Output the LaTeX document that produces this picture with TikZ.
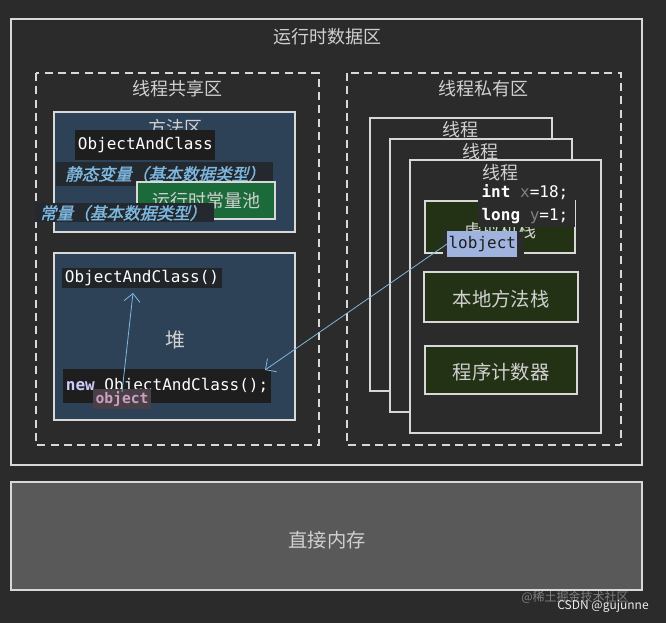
\documentclass[tikz,border=0pt]{standalone}
\usepackage{fontspec}
\setmainfont{Noto Sans CJK SC}
\newfontfamily\cjk{Noto Sans CJK SC}
\newfontfamily\cjkit[FakeSlant=0.25,FakeBold=1.5]{Noto Sans CJK SC}
\setmonofont{DejaVu Sans Mono}
\usetikzlibrary{arrows.meta}
\definecolor{bg}{HTML}{2B2B2B}
\definecolor{ln}{HTML}{D8D8D8}
\definecolor{txt}{HTML}{D0D0D0}
\definecolor{blu}{HTML}{2E4257}
\definecolor{codebg}{HTML}{1E1E1E}
\definecolor{grn}{HTML}{1B6B3A}
\definecolor{dgrn}{HTML}{233214}
\definecolor{sky}{HTML}{7DB8E0}
\definecolor{pink}{HTML}{C9A0C0}
\definecolor{hl}{HTML}{9FB3DE}
\definecolor{dmem}{HTML}{595959}
\begin{document}
\begin{tikzpicture}[x=0.75pt,y=-0.75pt,
  box/.style={draw=ln,line width=1.2pt},
  dashbox/.style={draw=ln,line width=1.2pt,dash pattern=on 6pt off 4pt},
  lab/.style={text=txt,font=\cjk\fontsize{13.5}{13.5}\selectfont,inner sep=0pt},
  code/.style={fill=codebg,text=white,font=\ttfamily\fontsize{12}{12}\selectfont,inner sep=2pt},
  arr/.style={draw=sky,line width=0.6pt,-{Straight Barb[length=6pt]}}]
\fill[bg] (0,0) rectangle (666,623);
\useasboundingbox (0,0) rectangle (666,623);
% outer
\draw[box] (11,19) rectangle (642,465);
\node[lab] (t0) at (327,37) {运行时数据区};
\draw[dashbox] (36,73) rectangle (319,445);
\node[lab] (t1) at (177,89) {线程共享区};
\draw[dashbox] (347,73) rectangle (621,445);
\node[lab] (t2) at (483,89) {线程私有区};
% method area
\draw[box,fill=blu] (54,112) rectangle (295,232);
\node[lab] (ma) at (175,128) {方法区};
\node[code,minimum height=23,anchor=west] (oac) at (75,145) {ObjectAndClass};
\fill[codebg!70!blu] (56,162) rectangle (273,186);
\node[inner sep=0pt,text=sky,font=\cjkit\fontsize{12.5}{12.5}\selectfont] (sv) at (165,174) {静态变量（基本数据类型）};
\draw[box,fill=grn] (137,182) rectangle (275,219);
\node[lab] (rc) at (206,201) {运行时常量池};
\fill[codebg!70!blu] (35,203) rectangle (214,222);
\node[inner sep=0pt,text=sky,font=\cjkit\fontsize{12.5}{12.5}\selectfont] (cv) at (123,213) {常量（基本数据类型）};
% heap
\draw[box,fill=blu] (54,253) rectangle (295,420);
\node[code,fill=codebg!80!blu,anchor=west] (oac2) at (62,278) {ObjectAndClass()};
\node[lab,font=\cjk\fontsize{15}{15}\selectfont] (heap) at (175,340) {堆};
\node[code,anchor=west,minimum height=25] (new) at (63,386) {\textbf{\color{white!80!blue}new} ObjectAndClass();};
\node[code,fill=pink!25!codebg,text=pink,font=\ttfamily\bfseries\fontsize{11}{11}\selectfont] (obj) at (122,399) {object};
% threads
\draw[box,fill=bg] (370,118) rectangle (552,391);
\node[lab] (th1) at (460,130) {线程};
\draw[box,fill=bg] (390,139) rectangle (572,412);
\node[lab] (th2) at (480,152) {线程};
\draw[box,fill=bg] (410,160) rectangle (601,433);
\node[lab] (th3) at (500,173) {线程};
\draw[box,fill=dgrn] (425,201) rectangle (575,253);
\node[lab] (vs) at (500,231) {虚拟机栈};
\fill[bg] (478,182) rectangle (575,227);
\node[code,fill=bg,anchor=west,inner sep=1pt] (ix) at (480,192) {\textbf{int} \color{gray}x\color{white}=18;};
\node[code,fill=bg,anchor=west,inner sep=1pt] (ly) at (480,216) {\textbf{long} \color{gray}y\color{white}=1;};
\fill[bg] (443,232) rectangle (524,255);
\node[code,fill=hl,text=codebg,anchor=west,minimum height=19,inner sep=1pt] (lo) at (447,244) {lobject};
\draw[box,fill=dgrn] (424,272) rectangle (578,322);
\node[lab,font=\cjk\fontsize{14.5}{14.5}\selectfont] (nm) at (501,299) {本地方法栈};
\draw[box,fill=dgrn] (425,346) rectangle (577,394);
\node[lab,font=\cjk\fontsize{14.5}{14.5}\selectfont] (pc) at (501,372) {程序计数器};
% arrows
\coordinate (oa) at (122,392);
\draw[arr] (oa) -- (133,293);
\draw[arr] (lo.west) -- (265,370);
% direct memory
\draw[box,fill=dmem] (11,482) rectangle (642,590);
\node[lab,font=\cjk\fontsize{14.5}{14.5}\selectfont] (dm) at (327,540) {直接内存};
\node[inner sep=0pt,text=gray,font=\cjk\fontsize{9}{9}\selectfont] (w1) at (575,597) {@稀土掘金技术社区};
\node[inner sep=0pt,text=white!85!gray,font=\cjk\fontsize{9}{9}\selectfont] (w2) at (603,606) {CSDN @gujunne};
\end{tikzpicture}
\end{document}
